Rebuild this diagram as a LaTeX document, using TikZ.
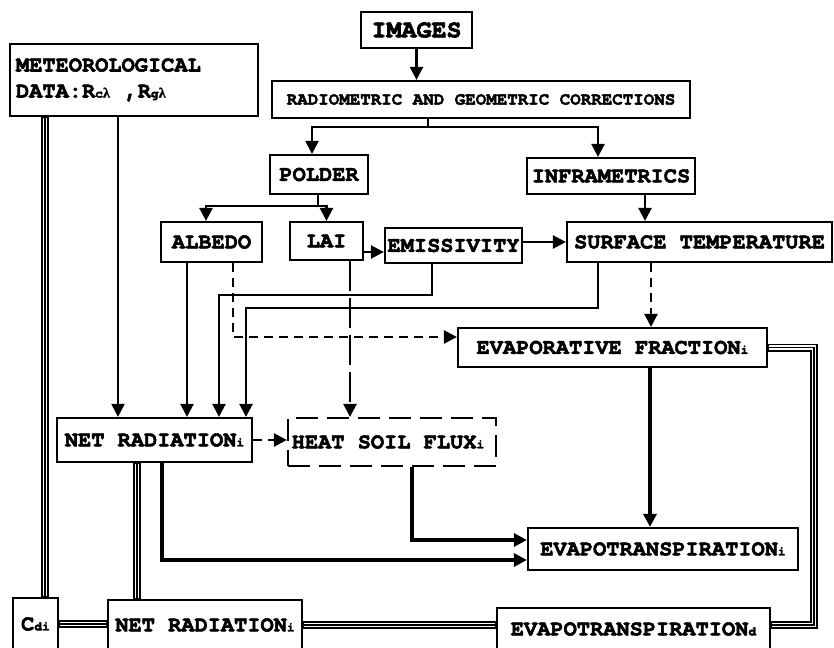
\documentclass[tikz,border=0pt]{standalone}
\usepackage{fontspec}
\setmainfont{TeX Gyre Cursor}[BoldFeatures={FakeBold=2.5}]
\newfontfamily\lamf{Liberation Serif}[BoldFeatures={FakeBold=1.5}]
\usetikzlibrary{arrows.meta}
\newcommand{\sbs}[1]{{\fontsize{13}{13}\selectfont #1}}
\newcommand{\lam}{{\lamf\fontsize{14}{14}\selectfont λ}}
\begin{document}
\begin{tikzpicture}[x=1pt,y=-1pt,
  box/.style={draw,line width=2.2pt,inner sep=0pt,align=center,font=\bfseries\fontsize{22}{26}\selectfont},
  con/.style={line width=2.4pt},
  arr/.style={con,-{Triangle[length=13pt,width=13pt]}},
  thk/.style={line width=3.6pt,-{Triangle[length=13pt,width=13pt]}},
  dsh/.style={arr,dash pattern=on 9pt off 6pt},
  ldsh/.style={arr,dash pattern=on 30pt off 7pt},
  triple/.style={line width=8pt,
    postaction={draw,white,line width=4.6pt,shorten <=1.2pt,shorten >=1.2pt},
    postaction={draw,black,line width=1.4pt,shorten <=1.2pt,shorten >=1.2pt}},
]
\clip (0,0) rectangle (834,647);
\fill[white] (0,0) rectangle (834,647);

% nodes
\node[box,minimum width=111pt,minimum height=36pt,font=\bfseries\fontsize{25}{25}\selectfont] (images) at (416.5,30) {IMAGES};
\node[box,minimum width=418pt,minimum height=37pt,font=\bfseries\fontsize{17.5}{20}\selectfont] (radio) at (481,99.5) {RADIOMETRIC AND GEOMETRIC CORRECTIONS};
\node[box,minimum width=248pt,minimum height=72pt,align=left,text width=236pt] (met) at (134,80) {METEOROLOGICAL\\DATA:R\sbs{c}\lam\ \ ,R\sbs{g}\lam};
\node[box,minimum width=98pt,minimum height=39pt] (polder) at (319,174.5) {POLDER};
\node[box,minimum width=168pt,minimum height=36pt] (infra) at (611,176) {INFRAMETRICS};
\node[box,minimum width=101pt,minimum height=40pt] (albedo) at (211.5,242) {ALBEDO};
\node[box,minimum width=73pt,minimum height=38pt] (lai) at (326.5,241) {LAI};
\node[box,minimum width=137pt,minimum height=35pt] (emis) at (453.5,245.5) {EMISSIVITY};
\node[box,minimum width=265pt,minimum height=40pt] (surf) at (699.5,242) {SURFACE TEMPERATURE};
\node[box,minimum width=309pt,minimum height=39pt] (evf) at (612.5,347.5) {EVAPORATIVE FRACTION\sbs{i}};
\node[box,minimum width=195pt,minimum height=44pt] (netr) at (154.5,440) {NET RADIATION\sbs{i}};
\node[box,dash pattern=on 22pt off 9pt,minimum width=208pt,minimum height=48pt] (heat) at (392,442) {\hspace*{-8pt}HEAT SOIL FLUX\sbs{i}};
\node[box,minimum width=270pt,minimum height=42pt] (evi) at (663,549) {EVAPOTRANSPIRATION\sbs{i}};
\node[box,minimum width=45pt,minimum height=52pt] (cdi) at (35.5,624) {C\sbs{di}};
\node[box,minimum width=194pt,minimum height=50pt] (netr2) at (205,625) {NET RADIATION\sbs{i}};
\node[box,minimum width=273pt,minimum height=42pt] (evd) at (633.5,629) {EVAPOTRANSPIRATION\sbs{d}};

% helper coordinates
\coordinate (b1) at (428,127);
\coordinate (b2) at (318,206);
\coordinate (k1) at (219,295);
\coordinate (k2) at (246,308);
\coordinate (k3) at (233,337);
\coordinate (rx) at (814,0);
\coordinate (tx) at (137,0);
\coordinate (lx) at (45,0);

% connectors
\draw[arr] (images.south) -- (images.south |- radio.north);
\draw[con] (radio.south -| b1) -- (b1);
\draw[arr] (b1) -| ([xshift=-7pt]polder.north);
\draw[arr] (b1) -| ([xshift=-13pt]infra.north);
\draw[con] (polder.south -| b2) -- (b2);
\draw[arr] (b2) -| ([xshift=-5.5pt]albedo.north);
\draw[arr] (b2) -| (lai.north);
\draw[arr] ([yshift=-11pt]lai.east) -- ([yshift=-11pt]lai.east -| emis.west);
\draw[arr] (emis.east |- surf.west) -- (surf.west);
\draw[arr] ([xshift=34pt]infra.south) -- ([xshift=34pt]infra.south |- surf.north);
\draw[arr,line width=2pt] ([xshift=-36.5pt]netr.north |- met.south) -- ([xshift=-36.5pt]netr.north);
\draw[arr] ([xshift=-24.5pt]albedo.south) -- ([xshift=-24.5pt]albedo.south |- netr.north);
\draw[arr] ([xshift=-21.5pt]emis.south) |- (k1) -- (k1 |- netr.north);
\draw[arr] ([xshift=-101.5pt]surf.south) |- (k2) -- (k2 |- netr.north);
\draw[dsh] ([xshift=21.5pt]albedo.south) -- (k3) -- (k3 -| evf.west);
\draw[ldsh] ([xshift=23.5pt]lai.south) -- ([xshift=23.5pt]lai.south |- heat.north);
\draw[dsh] ([xshift=-48.5pt]surf.south) -- ([xshift=-48.5pt]surf.south |- evf.north);
\draw[dsh] (netr.east) -- (netr.east -| heat.west);
\draw[thk] ([xshift=37.5pt]evf.south) -- ([xshift=37.5pt]evf.south |- evi.north);
\draw[thk] ([xshift=20pt]heat.south) |- ([yshift=9pt]evi.west);
\draw[thk] ([xshift=7.5pt]netr.south) |- ([yshift=-11pt]evi.west);

% triple lines
\draw[triple] (met.south -| lx) -- (cdi.north -| lx);
\draw[triple] (netr.south -| tx) -- (netr2.north -| tx);
\draw[triple] (cdi.east) -- (cdi.east -| netr2.west);
\draw[triple] (netr2.east) -- (netr2.east -| evd.west);
\draw[triple] (evf.east) -- (evf.east -| rx) -- ([yshift=4pt]evd.east -| rx) -- ([yshift=4pt]evd.east);
\end{tikzpicture}
\end{document}
